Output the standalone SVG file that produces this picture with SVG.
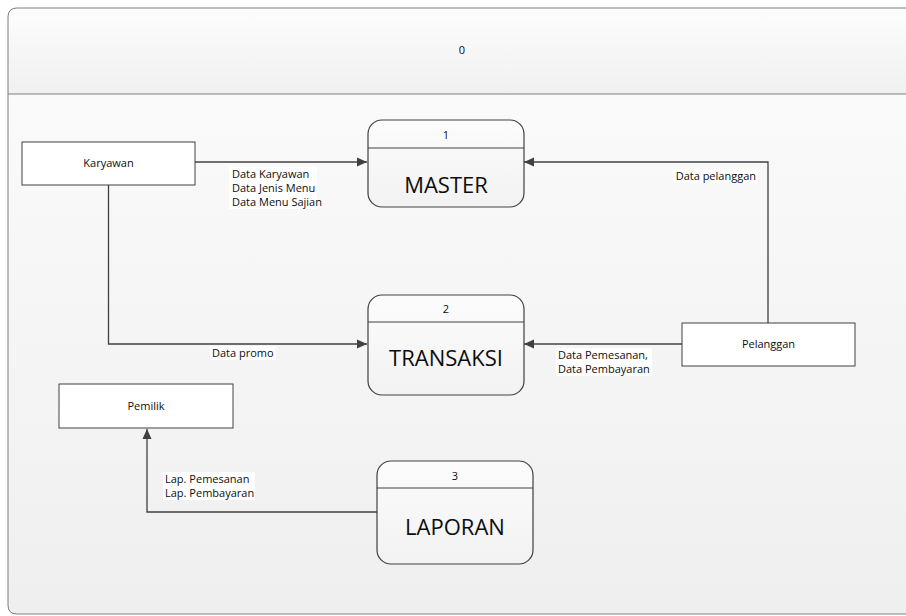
<svg xmlns="http://www.w3.org/2000/svg" width="906" height="616" viewBox="0 0 906 616">
<style>
.ent{fill:#ffffff;stroke:#404040;stroke-width:1}
.proc{fill:url(#gp);stroke:#404040;stroke-width:1.2}
.div{stroke:#404040;stroke-width:1}
.t{font-family:"Open Sans","Noto Sans","DejaVu Sans",sans-serif;font-size:11px;fill:#0d0d0d}
.big{font-family:"Open Sans","Noto Sans","DejaVu Sans",sans-serif;font-size:22px;fill:#0d0d0d;text-anchor:middle}
.c{text-anchor:middle}
.flow{fill:none;stroke:#404040;stroke-width:1.3}
.lb{fill:#ffffff}
</style>
<defs>
<linearGradient id="gf" x1="0" y1="0" x2="0" y2="1">
<stop offset="0" stop-color="#fcfcfc"/>
<stop offset="1" stop-color="#efefef"/>
</linearGradient>
<linearGradient id="gh" x1="0" y1="0" x2="0" y2="1">
<stop offset="0" stop-color="#fdfdfd"/>
<stop offset="1" stop-color="#f0f0f0"/>
</linearGradient>
<linearGradient id="gp" x1="0" y1="0" x2="0" y2="1">
<stop offset="0" stop-color="#fcfcfc"/>
<stop offset="1" stop-color="#f2f2f2"/>
</linearGradient>
<marker id="ah" viewBox="0 0 10 10" refX="10" refY="5" markerWidth="10" markerHeight="10" markerUnits="userSpaceOnUse" orient="auto">
<path d="M0,0.5 L10,5 L0,9.5 z" fill="#404040"/>
</marker>
</defs>
<g id="frame">
<path d="M910,8 H17 Q8,8 8,17 V605 Q8,614 17,614 H910 Z" fill="url(#gf)" stroke="none"/>
<path d="M910,8 H17 Q8,8 8,17 V94 H910 Z" fill="url(#gh)" stroke="none"/>
<path d="M910,8 H17 Q8,8 8,17 V605 Q8,614 17,614 H910" fill="none" stroke="#7f7f7f" stroke-width="1"/>
<line x1="8" y1="94" x2="910" y2="94" stroke="#7f7f7f" stroke-width="1.2"/>
<text class="t c" x="462" y="54">0</text>
</g>
<g id="connectors">
<path class="flow" d="M195,162 H367" marker-end="url(#ah)"/>
<path class="flow" d="M768,323 V162 H524" marker-end="url(#ah)"/>
<path class="flow" d="M682,344 H524" marker-end="url(#ah)"/>
<path class="flow" d="M108.5,185 V344 H367" marker-end="url(#ah)"/>
<path class="flow" d="M377,512 H147 V429" marker-end="url(#ah)"/>
<rect class="lb" x="229" y="167" width="88" height="42"/>
<text class="t" x="232" y="178">Data Karyawan</text>
<text class="t" x="232" y="192">Data Jenis Menu</text>
<text class="t" x="232" y="206">Data Menu Sajian</text>
<rect class="lb" x="672" y="169" width="86" height="14"/>
<text class="t" x="756" y="180" text-anchor="end">Data pelanggan</text>
<rect class="lb" x="556" y="348" width="96" height="28"/>
<text class="t" x="558" y="359">Data Pemesanan,</text>
<text class="t" x="558" y="373">Data Pembayaran</text>
<rect class="lb" x="210" y="346" width="66" height="14"/>
<text class="t" x="212" y="357">Data promo</text>
<rect class="lb" x="163" y="472" width="92" height="28"/>
<text class="t" x="165" y="483">Lap. Pemesanan</text>
<text class="t" x="165" y="497">Lap. Pembayaran</text>
</g>
<g id="karyawan">
<rect class="ent" x="22" y="142" width="173" height="43"/>
<text class="t c" x="108.5" y="167">Karyawan</text>
</g>
<g id="pelanggan">
<rect class="ent" x="682" y="323" width="173" height="43"/>
<text class="t c" x="768.5" y="348">Pelanggan</text>
</g>
<g id="pemilik">
<rect class="ent" x="59" y="384" width="174" height="44"/>
<text class="t c" x="146" y="410">Pemilik</text>
</g>
<g id="p1">
<rect class="proc" x="368" y="120" width="156" height="87" rx="14"/>
<line class="div" x1="368" y1="148" x2="524" y2="148"/>
<text class="t c" x="446" y="139">1</text>
<text class="big" x="446" y="193">MASTER</text>
</g>
<g id="p2">
<rect class="proc" x="368" y="295" width="156" height="100" rx="14"/>
<line class="div" x1="368" y1="322" x2="524" y2="322"/>
<text class="t c" x="446" y="313">2</text>
<text class="big" x="446" y="366">TRANSAKSI</text>
</g>
<g id="p3">
<rect class="proc" x="377" y="461" width="156" height="103" rx="14"/>
<line class="div" x1="377" y1="488" x2="533" y2="488"/>
<text class="t c" x="455" y="480">3</text>
<text class="big" x="455" y="535">LAPORAN</text>
</g>
</svg>
